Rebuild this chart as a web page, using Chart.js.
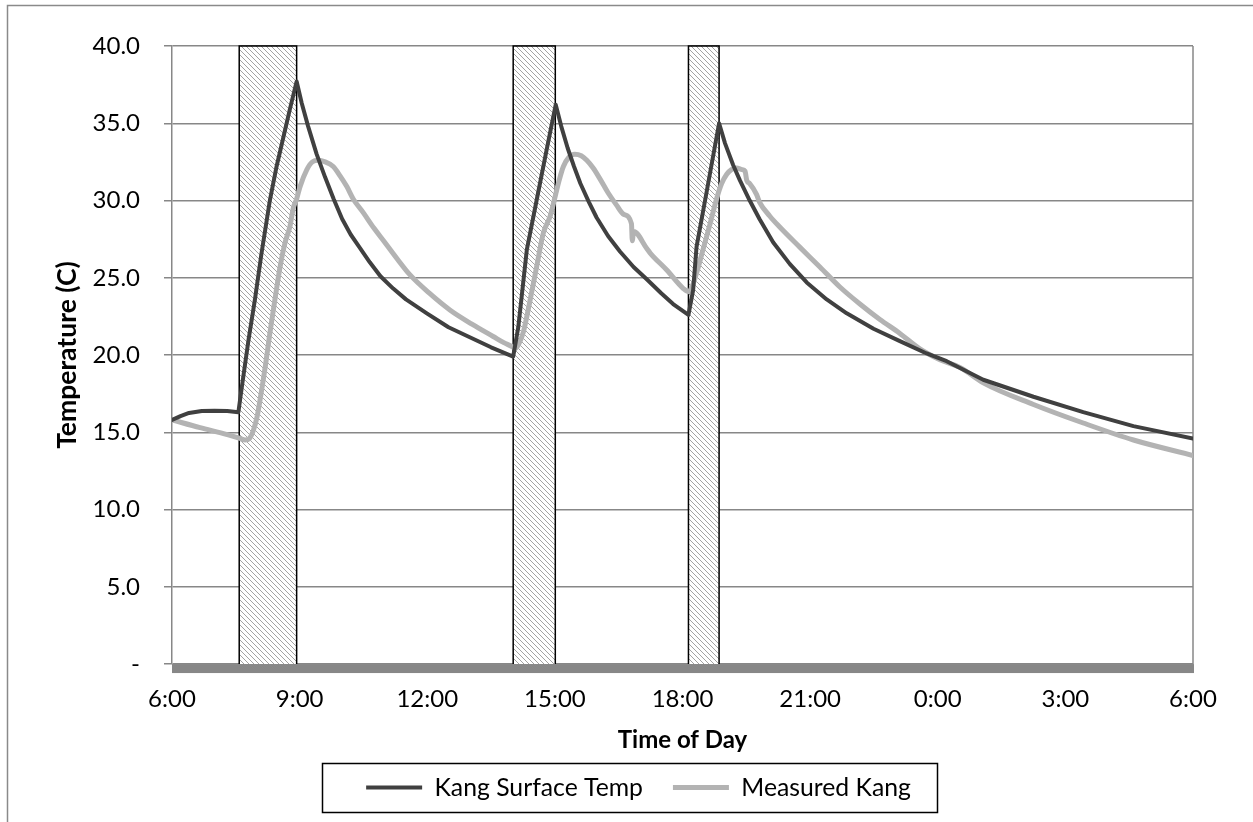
<!DOCTYPE html>
<html><head><meta charset="utf-8">
<script src="https://cdn.jsdelivr.net/npm/chart.js@4"></script>
<style>html,body{margin:0;padding:0;background:#fff;} canvas{display:block;}</style>
</head><body>
<canvas id="c" width="1253" height="822"></canvas>
<script>
// ---- data (hours after 6:00) ----
const xTickLabels = ['6:00','9:00','12:00','15:00','18:00','21:00','0:00','3:00','6:00'];
const yTickLabels = ['-','5.0','10.0','15.0','20.0','25.0','30.0','35.0','40.0'];

const kangHours = [0,0.2,0.4,0.7,1.0,1.3,1.56,1.64,1.8,1.95,2.1,2.3,2.45,2.61,2.77,2.93,
  3.05,3.2,3.4,3.6,3.8,4.0,4.2,4.4,4.65,4.9,5.2,5.5,5.99,6.5,7.0,7.5,8.02,
  8.14,8.34,8.57,8.8,9.02,9.15,9.3,9.45,9.6,9.8,9.98,10.25,10.53,10.85,11.16,11.5,11.78,12.14,
  12.25,12.33,12.57,12.86,13.0,13.19,13.35,13.58,13.81,14.13,14.52,14.92,15.39,15.86,16.49,17.11,17.74,18.21,19.07,20.25,21.42,22.6,24.0];
const kangSurfaceTemp = [15.8,16.05,16.25,16.38,16.4,16.38,16.3,17.9,21.0,23.6,26.5,30.0,32.1,34.0,35.9,37.7,
  36.3,34.8,33.0,31.5,30.1,28.8,27.8,27.0,26.0,25.1,24.3,23.6,22.7,21.8,21.15,20.5,19.9,
  21.8,26.8,30.0,33.2,36.2,34.8,33.4,32.2,31.1,29.9,28.9,27.7,26.7,25.7,24.9,24.0,23.3,22.6,
  24.2,27.0,30.6,35.0,33.7,32.3,31.3,30.0,28.8,27.3,25.9,24.7,23.6,22.7,21.7,20.9,20.1,19.6,18.4,17.3,16.3,15.4,14.6];

const measuredHours = [0,0.66,1.3,1.6,1.72,1.82,1.91,2.0,2.07,2.2,2.3,2.42,2.54,2.66,2.77,2.85,2.93,3.01,3.17,3.3,3.44,3.6,3.79,3.95,4.11,4.26,4.5,4.75,5.0,5.3,5.59,6.05,6.54,7.05,7.55,7.8,8.02,8.06,
  8.15,8.26,8.4,8.57,8.73,8.89,9.01,9.1,9.2,9.33,9.47,9.62,9.75,9.9,10.06,10.25,10.45,10.62,10.8,10.82,10.85,11.16,11.24,11.63,12.02,12.14,
  12.25,12.33,12.5,12.65,12.8,12.92,13.04,13.15,13.27,13.4,13.47,13.51,13.58,13.74,13.81,14.05,14.28,14.75,15.23,15.7,16.17,16.64,17.11,17.58,18.05,18.52,19.07,20.25,21.42,22.6,24.0];
const measuredKang = [15.8,15.3,14.85,14.6,14.5,14.6,15.1,16.0,17.1,19.4,21.4,23.6,25.7,27.3,28.3,29.5,30.1,30.9,32.0,32.5,32.6,32.5,32.2,31.6,30.9,30.1,29.2,28.2,27.3,26.2,25.2,24.0,22.9,22.0,21.2,20.8,20.5,20.4,
  20.7,21.5,23.3,25.7,27.9,29.0,30.3,31.3,32.2,32.8,33.0,32.9,32.6,32.1,31.4,30.5,29.7,29.1,28.5,27.4,28.0,26.9,26.6,25.5,24.3,24.1,
  24.6,25.3,27.0,28.5,30.1,31.1,31.7,32.0,32.1,32.0,31.9,31.3,31.1,30.4,29.9,29.0,28.3,27.0,25.7,24.4,23.3,22.3,21.4,20.4,19.7,19.2,18.2,16.8,15.6,14.5,13.5];

const heatingStart = [1.58, 8.02, 12.14];
const heatingEnd = [2.93, 9.01, 12.86];
const heatingLevel = 40;

// ---- build ----
function pairs(xs, ys){ return xs.map((x,i)=>({x:x, y:ys[i]})); }

function makeHatch(){
  const s = 5;
  const c = document.createElement('canvas'); c.width = s; c.height = s;
  const g = c.getContext('2d');
  g.fillStyle = '#ffffff'; g.fillRect(0,0,s,s);
  g.strokeStyle = '#a3a3a3'; g.lineWidth = 1;
  g.beginPath(); g.moveTo(-1,-1); g.lineTo(s+1,s+1); g.stroke();
  g.beginPath(); g.moveTo(-1,s-1); g.lineTo(1,s+1); g.stroke();
  g.beginPath(); g.moveTo(s-1,-1); g.lineTo(s+1,1); g.stroke();
  return g.createPattern(c,'repeat');
}
const hatch = makeHatch();

const heatDatasets = heatingStart.map((a,i)=>({
  label: 'heating' + (i+1),
  data: [{x:a,y:0},{x:a,y:heatingLevel},{x:heatingEnd[i],y:heatingLevel},{x:heatingEnd[i],y:0}],
  borderColor: '#000000', borderWidth: 1.5, backgroundColor: hatch,
  fill: 'origin', pointRadius: 0, tension: 0, order: 3, clip: 4
}));

const GRID = '#878787';
const FONT = 'Lato';
const PAD_LEFT = 84;

const deco = {
  id: 'deco',
  beforeDraw(chart){
    const g = chart.ctx; g.save();
    g.fillStyle = '#fff'; g.fillRect(0,0,chart.width,chart.height);
    g.strokeStyle = '#8a8a8a'; g.lineWidth = 1.5;
    g.beginPath(); g.moveTo(7.5, chart.height); g.lineTo(7.5, 5.5); g.lineTo(chart.width, 5.5); g.stroke();
    g.restore();
  },
  beforeDatasetsDraw(chart){
    const a = chart.chartArea, g = chart.ctx; g.save();
    g.strokeStyle = GRID; g.lineWidth = 1.5;
    g.beginPath(); g.moveTo(a.right, a.top); g.lineTo(a.right, a.bottom); g.stroke();
    g.restore();
  },
  afterDatasetsDraw(chart){
    const a = chart.chartArea, g = chart.ctx; g.save();
    g.fillStyle = GRID; g.fillRect(a.left, a.bottom, a.right - a.left + 1, 9);
    g.restore();
  },
  afterDraw(chart){
    const lg = chart.legend; if (!lg || !lg.legendHitBoxes.length) return;
    const hb = lg.legendHitBoxes;
    const l = hb[0].left, r = hb[hb.length-1].left + hb[hb.length-1].width;
    const cy = hb[0].top + hb[0].height/2;
    const g = chart.ctx; g.save();
    g.strokeStyle = '#000'; g.lineWidth = 1.5;
    g.strokeRect(Math.round(l - 44) + 0.5, Math.round(cy - 25) + 0.5, Math.round(r - l + 44 + 26), 49);
    g.restore();
  }
};

new Chart(document.getElementById('c'), {
  type: 'line',
  data: {
    datasets: [
      { label: 'Kang Surface Temp', data: pairs(kangHours, kangSurfaceTemp),
        borderColor: '#404040', backgroundColor: '#404040', borderWidth: 4, borderCapStyle: 'round',
        borderJoinStyle: 'round', pointRadius: 0, pointStyle: 'line', tension: 0, fill: false, order: 0 },
      { label: 'Measured Kang', data: pairs(measuredHours, measuredKang),
        borderColor: '#b3b3b3', backgroundColor: '#b3b3b3', borderWidth: 5, borderCapStyle: 'round',
        borderJoinStyle: 'round', pointRadius: 0, pointStyle: 'line', cubicInterpolationMode: 'monotone', fill: false, order: 1 },
      ...heatDatasets
    ]
  },
  options: {
    responsive: false, animation: false, devicePixelRatio: 1,
    layout: { padding: { top: 46, right: 60, left: PAD_LEFT, bottom: 12.1 } },
    plugins: {
      tooltip: { enabled: false },
      legend: {
        position: 'bottom',
        labels: {
          usePointStyle: true, pointStyleWidth: 56, padding: 30, color: '#000',
          font: { family: FONT, size: 24.75 },
          filter: (item) => item.datasetIndex < 2
        }
      }
    },
    scales: {
      x: {
        type: 'linear', min: 0, max: 24,
        ticks: { stepSize: 3, color: '#000', font: { family: FONT, size: 24 }, padding: 21, maxRotation: 0, autoSkip: false,
                 callback: (v, i) => xTickLabels[i] },
        grid: { display: false, drawTicks: false },
        border: { display: false },
        title: { display: true, text: 'Time of Day', color: '#000', font: { family: FONT, size: 24, weight: 'bold' },
                 padding: { top: 0, bottom: -9.3 } },
        afterFit: (s) => { s.height = 81.1; }
      },
      y: {
        min: 0, max: 40,
        ticks: { stepSize: 5, color: '#000', font: { family: FONT, size: 24 }, padding: 24,
                 callback: (v, i) => yTickLabels[i] },
        grid: { color: GRID, lineWidth: 1.5, drawTicks: true, tickLength: 8 },
        border: { display: true, color: GRID, width: 1.5 },
        title: { display: true, text: 'Temperature (C)', color: '#000', font: { family: FONT, size: 26.5, weight: 'bold' },
                 padding: { top: 67 - PAD_LEFT - 15.9, bottom: 0 } },
        afterFit: (s) => { s.width = 172 - PAD_LEFT; }
      }
    }
  },
  plugins: [deco]
});
</script>
</body></html>
